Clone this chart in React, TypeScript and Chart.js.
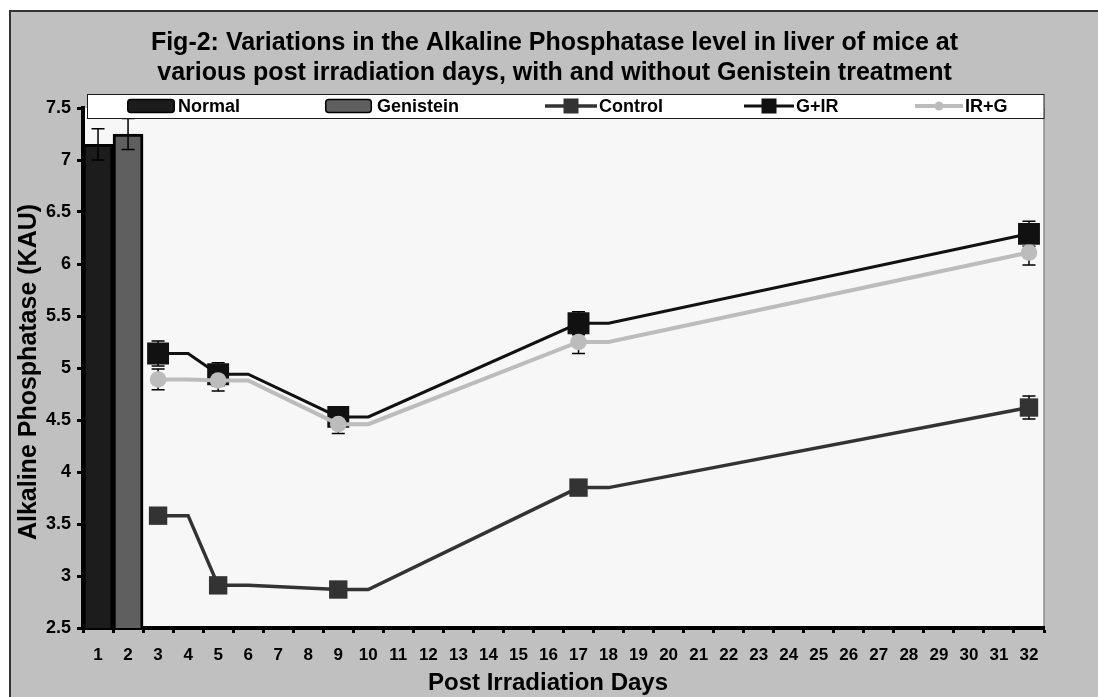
import React, { useEffect, useRef } from 'react';
import { Chart, registerables } from 'chart.js';

Chart.register(...registerables);

const FONT = '"Liberation Sans", Arial, Helvetica, sans-serif';

// ---------- data ----------
const categories = [
  '1', '2', '3', '4', '5', '6', '7', '8', '9', '10', '11', '12', '13', '14', '15', '16',
  '17', '18', '19', '20', '21', '22', '23', '24', '25', '26', '27', '28', '29', '30', '31', '32',
];

const titleLines = [
  'Fig-2: Variations in the Alkaline Phosphatase level in liver of mice at',
  'various post irradiation days, with and without Genistein treatment',
];
const yTitle = 'Alkaline Phosphatase (KAU)';
const xTitle = 'Post Irradiation Days';

const normalDays = ['1'];
const normalValues = [7.15];
const normalErrors = [0.15];

const genisteinDays = ['2'];
const genisteinValues = [7.25];
const genisteinErrors = [0.15];

// days carrying a marker (measurement days)
const markerDays = ['3', '5', '9', '17', '32'];
// categories the plotted lines pass through (level held one category after each marker)
const lineDays = ['3', '4', '5', '6', '9', '10', '17', '18', '32'];

const controlValues = [3.58, 3.58, 2.91, 2.91, 2.87, 2.87, 3.85, 3.85, 4.62];
const controlErrors = [0.06, 0.05, 0.05, 0.06, 0.11];

const gIrValues = [5.14, 5.14, 4.94, 4.94, 4.53, 4.53, 5.43, 5.43, 6.29];
const gIrErrors = [0.12, 0.11, 0.07, 0.11, 0.12];

const irGValues = [4.89, 4.89, 4.88, 4.88, 4.46, 4.46, 5.25, 5.25, 6.11];
const irGErrors = [0.1, 0.1, 0.09, 0.11, 0.12];

const yMin = 2.5;
const yMax = 7.5;
const yStep = 0.5;

// ---------- helpers ----------
const toPoints = (days: string[], values: number[]) =>
  days.map((d, i) => ({ x: d, y: values[i] }));

const markerRadius = (r: number) => (ctx: any) =>
  ctx.raw && markerDays.includes(ctx.raw.x) ? r : 0;

function drawErrorBars(chart: any, kind: string) {
  const { ctx } = chart;
  const yScale = chart.scales.y;
  chart.data.datasets.forEach((ds: any, di: number) => {
    if ((ds.type || 'bar') !== kind || !ds.errors) return;
    const meta = chart.getDatasetMeta(di);
    meta.data.forEach((el: any, i: number) => {
      const raw = ds.data[i];
      const k = ds.errorDays.indexOf(raw.x);
      if (k < 0) return;
      const err = ds.errors[k];
      const x = el.x;
      const yT = yScale.getPixelForValue(raw.y + err);
      const yB = yScale.getPixelForValue(raw.y - err);
      ctx.save();
      ctx.strokeStyle = '#000';
      ctx.lineWidth = 1.5;
      ctx.beginPath();
      ctx.moveTo(x, yT);
      ctx.lineTo(x, yB);
      ctx.moveTo(x - 6.5, yT);
      ctx.lineTo(x + 6.5, yT);
      ctx.moveTo(x - 6.5, yB);
      ctx.lineTo(x + 6.5, yB);
      ctx.stroke();
      ctx.restore();
    });
  });
}

const plotBackground = {
  id: 'plotBackground',
  beforeDraw(chart: any) {
    const { ctx, chartArea: a } = chart;
    ctx.save();
    ctx.fillStyle = '#f7f7f7';
    ctx.fillRect(a.left, a.top, a.right - a.left, a.bottom - a.top);
    ctx.strokeStyle = '#8c8c8c';
    ctx.lineWidth = 1.5;
    ctx.beginPath();
    ctx.moveTo(a.right, a.top);
    ctx.lineTo(a.right, a.bottom);
    ctx.stroke();
    ctx.restore();
  },
};

const errorBars = {
  id: 'errorBars',
  beforeDatasetsDraw(chart: any) {
    drawErrorBars(chart, 'line');
  },
  afterDatasetsDraw(chart: any) {
    drawErrorBars(chart, 'bar');
  },
};

const axisTitles = {
  id: 'axisTitles',
  afterDraw(chart: any) {
    const { ctx } = chart;
    ctx.save();
    ctx.fillStyle = '#000';
    ctx.textAlign = 'center';
    ctx.textBaseline = 'middle';
    ctx.font = `bold 24px ${FONT}`;
    ctx.fillText(xTitle, 537, 671);
    ctx.font = `bold 25px ${FONT}`;
    ctx.translate(18, 360);
    ctx.rotate(-Math.PI / 2);
    ctx.fillText(yTitle, 0, 0);
    ctx.restore();
  },
};

// legend layout (x of the key start, key width, x of the text)
const legendLayout = [
  { key: 116, keyW: 48, text: 167 },
  { key: 314, keyW: 47, text: 366 },
  { key: 534, keyW: 52, text: 588 },
  { key: 733, keyW: 50, text: 785 },
  { key: 904, keyW: 48, text: 954 },
];

const customLegend = {
  id: 'customLegend',
  afterDraw(chart: any) {
    const { ctx, chartArea: a } = chart;
    const top = 82;
    const bottom = 106;
    const cy = (top + bottom) / 2;
    ctx.save();
    ctx.fillStyle = '#ffffff';
    ctx.fillRect(a.left + 4, top, a.right - a.left - 4, bottom - top);
    ctx.strokeStyle = '#1a1a1a';
    ctx.lineWidth = 1;
    ctx.strokeRect(a.left + 4.5, top + 0.5, a.right - a.left - 4.5, bottom - top);
    chart.data.datasets.forEach((ds: any, i: number) => {
      const L = legendLayout[i];
      if (!L) return;
      if ((ds.type || 'bar') === 'bar') {
        ctx.beginPath();
        ctx.roundRect(L.key + 0.75, cy - 6.5, L.keyW - 1.5, 13, 3);
        ctx.fillStyle = ds.backgroundColor;
        ctx.fill();
        ctx.strokeStyle = '#000';
        ctx.lineWidth = 1.5;
        ctx.stroke();
      } else {
        ctx.strokeStyle = ds.borderColor;
        ctx.lineWidth = ds.borderWidth;
        ctx.beginPath();
        ctx.moveTo(L.key, cy);
        ctx.lineTo(L.key + L.keyW, cy);
        ctx.stroke();
        const mx = L.key + L.keyW / 2;
        ctx.fillStyle = ds.pointBackgroundColor;
        if (ds.pointStyle === 'circle') {
          ctx.beginPath();
          ctx.arc(mx, cy, 4.5, 0, Math.PI * 2);
          ctx.fill();
        } else {
          ctx.fillRect(mx - 7.5, cy - 7.5, 15, 15);
        }
      }
      ctx.fillStyle = '#000';
      ctx.font = `bold 18px ${FONT}`;
      ctx.textAlign = 'left';
      ctx.textBaseline = 'middle';
      ctx.fillText(ds.label, L.text, cy + 1);
    });
    ctx.restore();
  },
};

export default function App() {
  const ref = useRef<HTMLCanvasElement>(null);

  useEffect(() => {
    if (!ref.current) return;
    Chart.defaults.font.family = FONT;
    Chart.defaults.color = '#000';

    const datasets: any[] = [
      {
        type: 'bar',
        label: 'Normal',
        data: toPoints(normalDays, normalValues),
        errors: normalErrors,
        errorDays: normalDays,
        backgroundColor: '#1c1c1c',
        borderColor: '#000',
        borderWidth: 3,
        barPercentage: 1,
        categoryPercentage: 1,
        grouped: false,
        order: 5,
      },
      {
        type: 'bar',
        label: 'Genistein',
        data: toPoints(genisteinDays, genisteinValues),
        errors: genisteinErrors,
        errorDays: genisteinDays,
        backgroundColor: '#5f5f5f',
        borderColor: '#000',
        borderWidth: 3,
        barPercentage: 1,
        categoryPercentage: 1,
        grouped: false,
        order: 4,
      },
      {
        type: 'line',
        label: 'Control',
        data: toPoints(lineDays, controlValues),
        errors: controlErrors,
        errorDays: markerDays,
        borderColor: '#333333',
        borderWidth: 3.5,
        pointStyle: 'rect',
        pointRadius: markerRadius(13),
        pointBackgroundColor: '#333333',
        pointBorderColor: '#333333',
        pointBorderWidth: 0,
        tension: 0,
        order: 3,
      },
      {
        type: 'line',
        label: 'G+IR',
        data: toPoints(lineDays, gIrValues),
        errors: gIrErrors,
        errorDays: markerDays,
        borderColor: '#111111',
        borderWidth: 3,
        pointStyle: 'rect',
        pointRadius: markerRadius(15.5),
        pointBackgroundColor: '#111111',
        pointBorderColor: '#111111',
        pointBorderWidth: 0,
        tension: 0,
        order: 2,
      },
      {
        type: 'line',
        label: 'IR+G',
        data: toPoints(lineDays, irGValues),
        errors: irGErrors,
        errorDays: markerDays,
        borderColor: '#bcbcbc',
        borderWidth: 4,
        pointStyle: 'circle',
        pointRadius: markerRadius(8.3),
        pointBackgroundColor: '#bcbcbc',
        pointBorderColor: '#bcbcbc',
        pointBorderWidth: 0,
        tension: 0,
        order: 1,
      },
    ];

    const chart = new Chart(ref.current, {
      type: 'bar',
      data: { labels: categories, datasets },
      plugins: [plotBackground, errorBars, axisTitles, customLegend],
      options: {
        responsive: false,
        animation: false,
        events: [],
        layout: { padding: 0 },
        plugins: {
          legend: { display: false },
          tooltip: { enabled: false },
          title: {
            display: true,
            text: titleLines,
            color: '#000',
            font: { size: 25, weight: 'bold', lineHeight: 1.2 },
            padding: { top: 16, bottom: 20 },
          },
        },
        scales: {
          x: {
            type: 'category',
            offset: true,
            grid: {
              offset: true,
              drawOnChartArea: false,
              drawTicks: true,
              tickLength: 5,
              tickWidth: 3,
              tickColor: '#000',
            },
            border: { display: true, color: '#000', width: 4 },
            ticks: {
              autoSkip: false,
              maxRotation: 0,
              padding: 12,
              color: '#000',
              font: { size: 17, weight: 'bold' },
            },
            afterFit: (s: any) => {
              s.height = 69;
            },
          },
          y: {
            min: yMin,
            max: yMax,
            grid: {
              drawOnChartArea: false,
              drawTicks: true,
              tickLength: 6,
              tickWidth: 3,
              tickColor: '#000',
            },
            border: { display: true, color: '#000', width: 4 },
            ticks: {
              stepSize: yStep,
              padding: 6,
              color: '#000',
              font: { size: 18, weight: 'bold' },
              callback: (v: any) => String(Number(v)),
            },
            afterFit: (s: any) => {
              s.width = 72;
            },
          },
          yRight: {
            position: 'right',
            display: true,
            grid: { display: false },
            border: { display: false },
            ticks: { display: false },
            afterFit: (s: any) => {
              s.width = 54;
            },
          },
        },
      } as any,
    });

    return () => chart.destroy();
  }, []);

  return (
    <div
      style={{
        position: 'fixed',
        left: 9,
        top: 10,
        width: 1087,
        height: 685,
        background: '#c0c0c0',
        borderLeft: '2px solid #333',
        borderTop: '2px solid #333',
      }}
    >
      <canvas ref={ref} width={1087} height={685} style={{ display: 'block', width: 1087, height: 685 }} />
    </div>
  );
}
